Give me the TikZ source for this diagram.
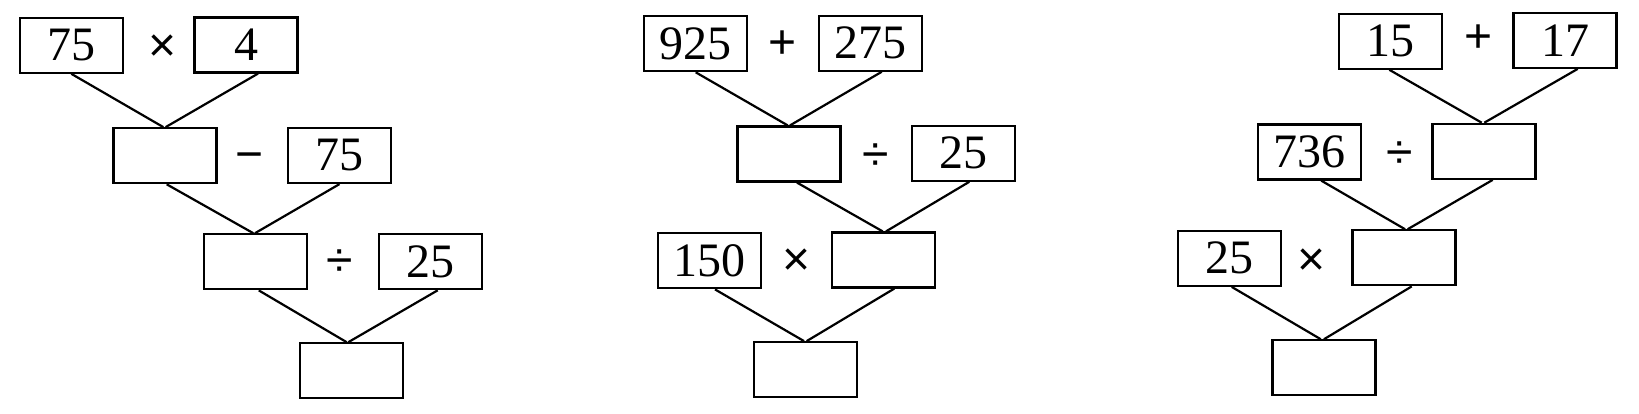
\documentclass[tikz,border=0pt]{standalone}
\usepackage{fontspec}
\setmainfont{Liberation Serif}
\newfontfamily\opfont{Liberation Sans}
\usetikzlibrary{calc}
\tikzset{
  numbox/.style={draw=black, line width=2.2pt, minimum width=103pt, minimum height=55pt, inner sep=0pt, font=\fontsize{48}{50}\selectfont},
  opsym/.style={inner sep=0pt, anchor=base, yshift=-16.8pt, font=\opfont\fontsize{48}{50}\selectfont},
  link/.style={draw=black, line width=2.2pt}
}
\newcommand\lnk[4]{\draw[link] ($(#1.south)+(#2pt,0)$) -- ($(#3.north)+(#4pt,0)$);}
\begin{document}
\begin{tikzpicture}[x=1pt,y=-1pt]
\useasboundingbox (0,0) rectangle (1639,414);
% diagram 1
\node[numbox] (a1) at (71.3,45.2) {75};
\node[opsym] (o11) at (163,45) {×};
\node[numbox] (b1) at (246,45) {4};
\node[numbox] (c1) at (165,155.7) {};
\node[opsym] (o12) at (250,154) {−};
\node[numbox] (d1) at (339.5,155.5) {75};
\node[numbox] (e1) at (255.8,261.8) {};
\node[opsym] (o13) at (340,260) {÷};
\node[numbox] (f1) at (430.2,261.7) {25};
\node[numbox] (g1) at (351.7,370.8) {};
\lnk{a1}{0}{c1}{-1.7}
\lnk{b1}{12}{c1}{0.7}
\lnk{c1}{1.7}{e1}{-2.5}
\lnk{d1}{0}{e1}{-0.8}
\lnk{e1}{3}{g1}{-5}
\lnk{f1}{7.5}{g1}{-3.4}
% diagram 2
\node[numbox] (a2) at (695.7,43.7) {925};
\node[opsym] (o21) at (782.3,41.7) {+};
\node[numbox] (b2) at (870.2,43.2) {275};
\node[numbox] (c2) at (789,154) {};
\node[opsym] (o22) at (875.3,154) {÷};
\node[numbox] (d2) at (963.3,153.2) {25};
\node[numbox] (e2) at (709.3,260.8) {150};
\node[opsym] (o23) at (796.7,259) {×};
\node[numbox] (f2) at (883.3,260) {};
\node[numbox] (g2) at (805.8,369.7) {};
\lnk{a2}{0}{c2}{-1.3}
\lnk{b2}{11.5}{c2}{1}
\lnk{c2}{8}{f2}{-0.6}
\lnk{d2}{6}{f2}{2.7}
\lnk{e2}{5.7}{g2}{-1.8}
\lnk{f2}{11}{g2}{0.9}
% diagram 3
\node[numbox] (a3) at (1390.7,41.2) {15};
\node[opsym] (o31) at (1478.3,36) {+};
\node[numbox] (b3) at (1565,40.3) {17};
\node[numbox] (c3) at (1309.2,152) {736};
\node[opsym] (o32) at (1400,151.7) {÷};
\node[numbox] (d3) at (1484,151.3) {};
\node[numbox] (e3) at (1229.2,258.3) {25};
\node[opsym] (o33) at (1311.7,258.3) {×};
\node[numbox] (f3) at (1404,257.8) {};
\node[numbox] (g3) at (1324,367.8) {};
\lnk{a3}{-1.4}{d3}{-2.3}
\lnk{b3}{12.7}{d3}{0.3}
\lnk{c3}{12}{f3}{1}
\lnk{d3}{8.7}{f3}{3.7}
\lnk{e3}{2.5}{g3}{-3.3}
\lnk{f3}{7.7}{g3}{0}
\end{tikzpicture}
\end{document}
